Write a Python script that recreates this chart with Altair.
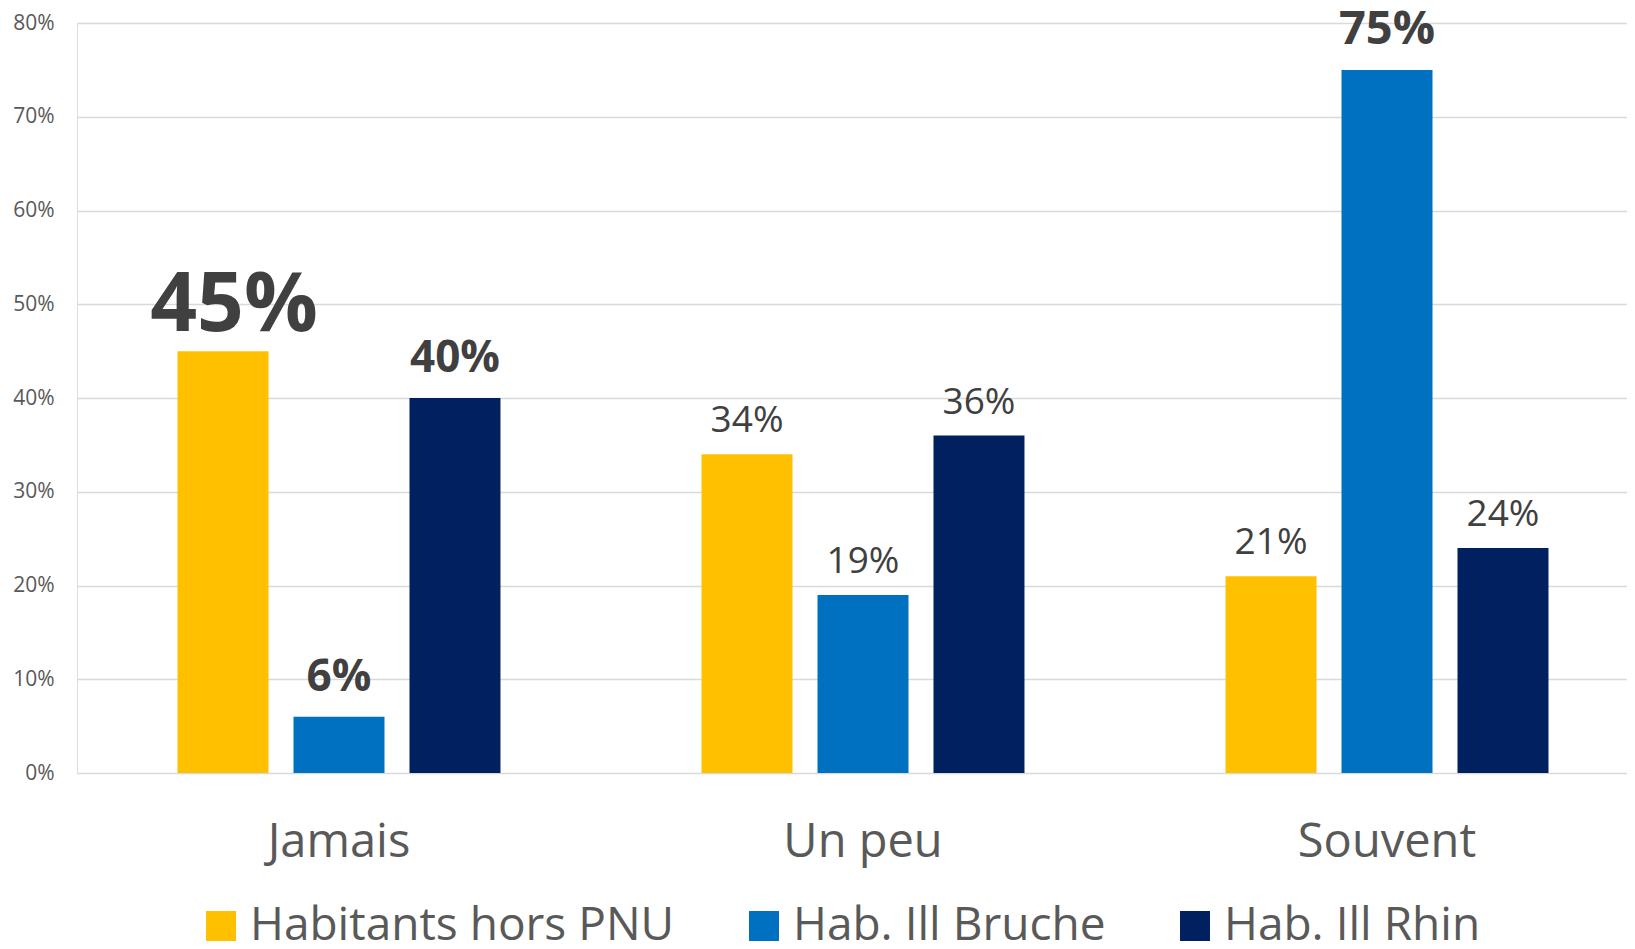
import altair as alt
import pandas as pd

categories = ["Jamais", "Un peu", "Souvent"]
series = ["Habitants hors PNU", "Hab. Ill Bruche", "Hab. Ill Rhin"]
hors_pnu = [45, 34, 21]
ill_bruche = [6, 19, 75]
ill_rhin = [40, 36, 24]
y_ticks = [0, 10, 20, 30, 40, 50, 60, 70, 80]
colors = ["#FFC000", "#0070C0", "#002060"]

# label emphasis (styling, not data)
emphasis = {
    ("Jamais", "Habitants hors PNU"): "xl",
    ("Jamais", "Hab. Ill Bruche"): "bold",
    ("Jamais", "Hab. Ill Rhin"): "bold",
    ("Souvent", "Hab. Ill Bruche"): "bold2",
}

rows = []
for s, vals in zip(series, [hors_pnu, ill_bruche, ill_rhin]):
    for c, v in zip(categories, vals):
        rows.append({"cat": c, "serie": s, "value": v,
                     "label": f"{v}%", "style": emphasis.get((c, s), "regular")})
df = pd.DataFrame(rows)

FONT = "Open Sans"
x_enc = alt.X("cat:N", sort=categories, title=None,
              scale=alt.Scale(paddingInner=0.084, paddingOuter=0.021, align=1),
              axis=alt.Axis(domain=False, ticks=False, labelFontSize=47,
                            labelColor="#595959", labelPadding=83,
                            labelBaseline="alphabetic", labelAngle=0, labelFont=FONT))
xo_enc = alt.XOffset("serie:N", sort=series,
                     scale=alt.Scale(paddingInner=0.2155, paddingOuter=0.677))
y_enc = alt.Y("value:Q", title=None,
              scale=alt.Scale(domain=[0, 80], nice=False, zero=True),
              axis=alt.Axis(values=y_ticks, labelExpr="datum.value + '%'",
                            domain=False, ticks=False, grid=True,
                            gridColor="#d9d9d9", gridWidth=1.3,
                            labelFontSize=21, labelColor="#595959",
                            labelPadding=23, labelFont=FONT))

base = alt.Chart(df)

bars = base.mark_bar().encode(
    x=x_enc, xOffset=xo_enc, y=y_enc,
    color=alt.Color("serie:N", sort=series,
                    scale=alt.Scale(domain=series, range=colors),
                    legend=alt.Legend(title=None, orient="none", direction="horizontal",
                                      columns=3, legendX=121, legendY=880,
                                      symbolType="square", symbolSize=900,
                                      symbolStrokeWidth=0, labelFontSize=46,
                                      labelColor="#595959", labelFont=FONT,
                                      labelOffset=6, columnPadding=66,
                                      labelLimit=1000, padding=0)),
)

def text_layer(style, size, weight, dy, dx=0):
    return base.transform_filter(alt.datum.style == style).mark_text(
        font=FONT, fontSize=size, fontWeight=weight, color="#404040",
        baseline="alphabetic", align="center", dy=dy, dx=dx,
    ).encode(x=x_enc, xOffset=xo_enc, y=y_enc, text="label:N")

chart = alt.layer(
    bars,
    text_layer("regular", 37, "normal", -22),
    text_layer("bold", 44, "bold", -26),
    text_layer("bold2", 47, "bold", -26),
    text_layer("xl", 82, "bold", -20, 11),
).properties(
    width=1550, height=750,
    autosize=alt.AutoSizeParams(type="none"),
    padding={"left": 69, "top": 15, "right": 0, "bottom": 168},
).configure_view(stroke=None).configure(font=FONT)

chart.save("out.html", embed_options={"renderer": "svg", "actions": False})
